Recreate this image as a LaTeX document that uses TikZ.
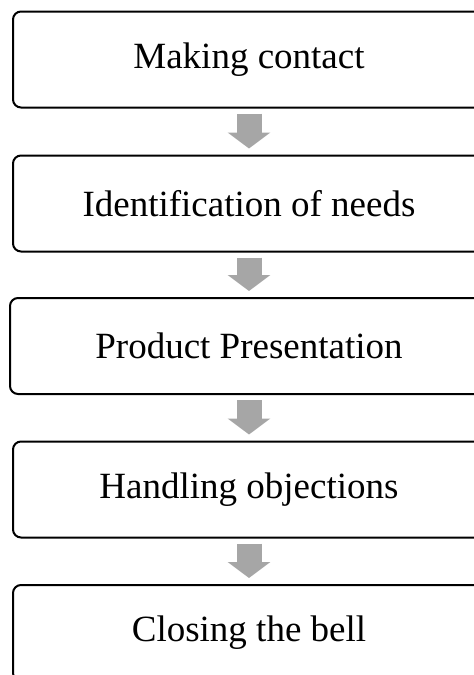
\documentclass[tikz,border=0pt]{standalone}
\usepackage{fontspec}
\setmainfont{Liberation Serif}
\usetikzlibrary{arrows.meta}
\tikzset{
  stagebox/.style={draw, line width=2pt, rounded corners=8pt, outer sep=0pt,
    minimum width=472pt, minimum height=96pt, font=\fontsize{37}{40}\selectfont},
  flowarrow/.style={line width=25pt, color=black!35,
    -{Triangle[width=42pt,length=16pt]}, shorten <=6pt, shorten >=7pt}
}
\begin{document}
\begin{tikzpicture}[x=1pt,y=-1pt]
            % Rahmen (rechts und unten abgeschnitten)
            \useasboundingbox (0,0) rectangle (474,675);
            \clip (0,0) rectangle (474,675);
            % Stufen
            \node[stagebox] (contact) at (249,59.5) {Making contact};
            \node[stagebox] (needs) at (249,203.5) {Identification of needs};
            \node[stagebox, minimum width=478pt] (present) at (249,346) {Product Presentation};
            \node[stagebox] (objections) at (249,489.5) {Handling objections};
            \node[stagebox] (closing) at (249,633) {Closing the bell};
            % Pfeile
            \draw[flowarrow] (contact.south) -- (needs.north);
            \draw[flowarrow] (needs.south) -- (present.north);
            \draw[flowarrow] (present.south) -- (objections.north);
            \draw[flowarrow] (objections.south) -- (closing.north);
          \end{tikzpicture}
\end{document}
